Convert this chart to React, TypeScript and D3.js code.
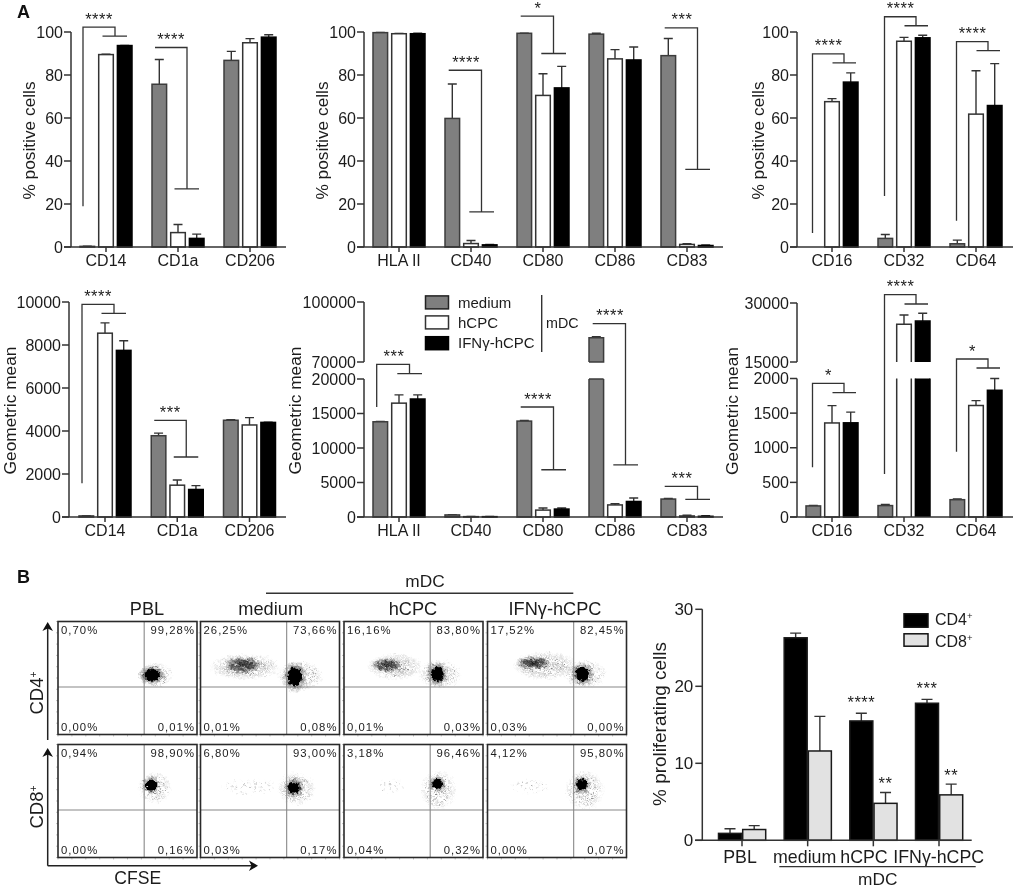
import React from "react";
import * as d3 from "d3";

const FONT = "'Liberation Sans', Arial, sans-serif";
const INK = "#1c1c1c";

// ---------- Panel A: data ----------
const surfaceMyeloid = ["CD14", "CD1a", "CD206"];
const surfaceCostim = ["HLA II", "CD40", "CD80", "CD86", "CD83"];
const surfaceFc = ["CD16", "CD32", "CD64"];
const treatments = ["medium", "hCPC", "IFNγ-hCPC"];

const pctMyeloidMedium = [0.3, 75.7, 86.8];
const pctMyeloidMediumTop = [0.4, 87.2, 91];
const pctMyeloidHcpc = [89.5, 6.7, 95];
const pctMyeloidHcpcTop = [89.7, 10.5, 96.9];
const pctMyeloidIfn = [93.7, 4, 97.6];
const pctMyeloidIfnTop = [93.8, 6, 98.7];

const pctCostimMedium = [99.7, 59.8, 99.4, 99, 89];
const pctCostimMediumTop = [99.8, 75.8, 99.5, 99.4, 97];
const pctCostimHcpc = [99.2, 1.6, 70.5, 87.5, 1.2];
const pctCostimHcpcTop = [99.3, 3, 80.6, 91.8, 1.5];
const pctCostimIfn = [99.2, 1, 74, 87, 0.7];
const pctCostimIfnTop = [99.4, 1.2, 84, 93, 0.9];

const pctFcMedium = [0, 4, 1.5];
const pctFcMediumTop = [0, 5.8, 3.2];
const pctFcHcpc = [67.6, 95.7, 61.8];
const pctFcHcpcTop = [69, 97.5, 82];
const pctFcIfn = [76.7, 97.3, 65.8];
const pctFcIfnTop = [81, 98.5, 85.3];

const mfiMyeloidMedium = [50, 3780, 4500];
const mfiMyeloidMediumTop = [55, 3900, 4520];
const mfiMyeloidHcpc = [8550, 1480, 4280];
const mfiMyeloidHcpcTop = [9030, 1720, 4620];
const mfiMyeloidIfn = [7750, 1280, 4400];
const mfiMyeloidIfnTop = [8200, 1460, 4410];

const mfiCostimMedium = [13800, 300, 13900, 82150, 2600];
const mfiCostimMediumTop = [13850, 330, 14000, 82600, 2680];
const mfiCostimHcpc = [16500, 50, 1000, 1750, 150];
const mfiCostimHcpcTop = [17700, 70, 1300, 1930, 250];
const mfiCostimIfn = [17100, 50, 1150, 2250, 100];
const mfiCostimIfnTop = [17700, 70, 1300, 2750, 200];

const mfiFcMedium = [160, 165, 250];
const mfiFcMediumTop = [165, 180, 260];
const mfiFcHcpc = [1358, 24600, 1610];
const mfiFcHcpcTop = [1608, 26950, 1680];
const mfiFcIfn = [1360, 25400, 1830];
const mfiFcIfnTop = [1515, 27400, 2000];

const ticksPct = [0, 20, 40, 60, 80, 100];
const ticksMfi = [0, 2000, 4000, 6000, 8000, 10000];
const ticksCostimBroken = [0, 5000, 10000, 15000, 20000, 70000, 100000];
const ticksFcBroken = [0, 500, 1000, 1500, 2000, 15000, 30000];

// Significance brackets, in units of each panel's y axis
type Bracket = { group: number; stars: string; top: number; drop?: number; bar: number };
const sigPctMyeloid: Bracket[] = [
  { group: 0, stars: "****", top: 102.3, drop: 19, bar: 98.1 },
  { group: 1, stars: "****", top: 92.8, bar: 27 },
];
const sigPctCostim: Bracket[] = [
  { group: 1, stars: "****", top: 82.2, bar: 16.3 },
  { group: 2, stars: "*", top: 107.4, bar: 90 },
  { group: 4, stars: "***", top: 101.9, bar: 36.1 },
];
const sigPctFc: Bracket[] = [
  { group: 0, stars: "****", top: 89.8, drop: 6.5, bar: 85.6 },
  { group: 1, stars: "****", top: 107.1, drop: 23.7, bar: 102.9 },
  { group: 2, stars: "****", top: 95.5, drop: 12.2, bar: 91.3 },
];
const sigMfiMyeloid: Bracket[] = [
  { group: 0, stars: "****", top: 9893, drop: 1567, bar: 9474 },
  { group: 1, stars: "***", top: 4497, bar: 2790 },
];
const sigMfiCostim: Bracket[] = [
  { group: 0, stars: "***", top: 63235, drop: 15940, bar: 35600 },
  { group: 2, stars: "****", top: 15940, bar: 6850 },
  { group: 3, stars: "****", top: 89150, bar: 7540 },
  { group: 4, stars: "***", top: 4450, bar: 2565 },
];
const sigMfiFc: Bracket[] = [
  { group: 0, stars: "*", top: 1931, drop: 718, bar: 1795 },
  { group: 1, stars: "****", top: 32110, drop: 621, bar: 29750 },
  { group: 2, stars: "*", top: 15760, drop: 943, bar: 10270 },
];

// ---------- Panel B: data ----------
const proliferationGroups = ["PBL", "medium", "hCPC", "IFNγ-hCPC"];
const proliferationCd4 = [0.9, 26.3, 15.5, 17.8];
const proliferationCd4Top = [1.5, 26.9, 16.5, 18.3];
const proliferationCd8 = [1.4, 11.6, 4.8, 5.9];
const proliferationCd8Top = [1.9, 16.1, 6.2, 7.3];
const proliferationStarsCd4 = ["", "", "****", "***"];
const proliferationStarsCd8 = ["", "", "**", "**"];
const ticksProliferation = [0, 10, 20, 30];

const flowRows = ["CD4", "CD8"];
const flowPercentCd4 = [
  ["0,70%", "99,28%", "0,00%", "0,01%"],
  ["26,25%", "73,66%", "0,01%", "0,08%"],
  ["16,16%", "83,80%", "0,01%", "0,03%"],
  ["17,52%", "82,45%", "0,03%", "0,00%"],
];
const flowPercentCd8 = [
  ["0,94%", "98,90%", "0,00%", "0,16%"],
  ["6,80%", "93,00%", "0,03%", "0,17%"],
  ["3,18%", "96,46%", "0,04%", "0,32%"],
  ["4,12%", "95,80%", "0,00%", "0,07%"],
];

// Estimated populations on a 0-1000 channel scale: [kind, x, y, xSpread, ySpread]
type Pop = [string, number, number, number, number];
const flowPopsCd4: Pop[][] = [
  [["halo", 705, 527, 122, 115], ["core", 674, 527, 58, 52]],
  [["sparse", 320, 600, 252, 115], ["dense", 305, 615, 130, 75], ["halo", 715, 518, 170, 133], ["core", 679, 510, 52, 82]],
  [["sparse", 367, 600, 201, 115], ["dense", 307, 615, 110, 62], ["halo", 690, 535, 158, 133], ["core", 671, 535, 46, 62]],
  [["sparse", 413, 610, 230, 124], ["dense", 327, 633, 125, 62], ["halo", 700, 535, 158, 124], ["core", 682, 535, 50, 62]],
];
const flowPopsCd8: Pop[][] = [
  [["halo", 697, 615, 122, 142], ["core", 669, 642, 38, 48]],
  [["faint", 356, 625, 216, 71], ["halo", 690, 610, 137, 150], ["core", 672, 618, 42, 52]],
  [["faint", 331, 632, 100, 71], ["halo", 680, 595, 130, 177], ["core", 671, 650, 36, 44]],
  [["faint", 306, 632, 144, 71], ["halo", 700, 595, 144, 177], ["core", 677, 647, 38, 48]],
];
// one tile of hand-placed event dots used for the stippled populations
const tileDots = [
  [1, 2], [5, 1], [9, 3], [13, 1], [16, 4], [20, 2], [24, 1], [27, 3], [31, 2], [33, 5],
  [3, 5], [7, 6], [11, 5], [14, 7], [18, 6], [22, 5], [25, 7], [29, 6], [1, 8], [5, 10],
  [9, 9], [12, 11], [16, 9], [20, 10], [23, 12], [27, 10], [31, 9], [33, 12], [3, 13], [7, 14],
  [10, 15], [15, 13], [18, 15], [21, 16], [26, 15], [30, 14], [2, 17], [6, 18], [12, 18], [16, 19],
  [23, 19], [28, 18], [32, 17], [4, 21], [9, 22], [14, 23], [19, 21], [25, 22], [30, 23], [1, 24],
];

// ---------- Drawing ----------
const seriesStyle = [
  { fill: "#7f7f7f", stroke: "#3c3c3c" },
  { fill: "#ffffff", stroke: "#333333" },
  { fill: "#000000", stroke: "#000000" },
];
const subOffset = d3.scalePoint<string>().domain(treatments).range([-18.7, 18.7]);

type Offsets = { l: number; r: number; c1: number; c2: number; s: number };
type PanelProps = {
  cats: string[];
  vals: number[][];
  tops: number[][];
  ticks: number[];
  domain: number[];
  range: number[];
  axisX: number;
  axisEnd: number;
  tickFirst: number;
  tickLast: number;
  title: string;
  titleX: number;
  sig: Bracket[];
  off: Offsets;
  gap?: [number, number];
};

function Panel({ cats, vals, tops, ticks, domain, range, axisX, axisEnd, tickFirst, tickLast, title, titleX, sig, off, gap }: PanelProps) {
  const y = d3.scaleLinear().domain(domain).range(range);
  const x = d3.scalePoint<string>().domain(cats).range([tickFirst, tickLast]);
  const y0 = y(0);
  const yTop = y(ticks[ticks.length - 1]);
  const w = 14.6;
  const axisPath = gap
    ? `M${axisX},${yTop}V${y(gap[1])}M${axisX},${y(gap[0])}V${y0}`
    : `M${axisX},${yTop}V${y0}`;
  return (
    <g fontFamily={FONT} fill={INK}>
      {treatments.map((t, si) =>
        cats.map((c, ci) => {
          const v = vals[si][ci];
          const top = tops[si][ci];
          const cx = x(c)! + subOffset(t)!;
          const st = seriesStyle[si];
          const broken = gap && v > gap[1];
          return (
            <g key={t + c}>
              {top > v && v > 0 && (
                <path d={`M${cx},${y(v)}V${y(top)}M${cx - 4.5},${y(top)}H${cx + 4.5}`} fill="none" stroke="#333" strokeWidth={1.4} />
              )}
              {v > 0 && !broken && (
                <rect x={cx - w / 2} y={y(v)} width={w} height={y0 - y(v)} fill={st.fill} stroke={st.stroke} strokeWidth={1.5} />
              )}
              {broken && (
                <>
                  <rect x={cx - w / 2} y={y(gap![0])} width={w} height={y0 - y(gap![0])} fill={st.fill} />
                  <rect x={cx - w / 2} y={y(v)} width={w} height={y(gap![1]) - y(v)} fill={st.fill} />
                  <path
                    d={
                      `M${cx - w / 2},${y0}V${y(gap![0])}M${cx + w / 2},${y0}V${y(gap![0])}` +
                      `M${cx - w / 2},${y(gap![1])}V${y(v)}H${cx + w / 2}V${y(gap![1])}` +
                      (si === 0 ? `H${cx - w / 2}M${cx - w / 2},${y(gap![0])}H${cx + w / 2}` : "")
                    }
                    fill="none"
                    stroke={st.stroke}
                    strokeWidth={1.5}
                  />
                </>
              )}
            </g>
          );
        })
      )}
      <path d={axisPath} fill="none" stroke="#333" strokeWidth={1.5} />
      <path d={`M${axisX - 7},${y0}H${axisEnd}`} fill="none" stroke="#333" strokeWidth={1.5} />
      {ticks.map((t) => (
        <g key={t}>
          <line x1={axisX - 7} x2={axisX} y1={y(t)} y2={y(t)} stroke="#333" strokeWidth={1.5} />
          <text x={axisX - 8} y={y(t) + 5.7} textAnchor="end" fontSize={16}>{t}</text>
        </g>
      ))}
      {cats.map((c) => (
        <g key={c}>
          <line x1={x(c)} x2={x(c)} y1={y0} y2={y0 + 5} stroke="#333" strokeWidth={1.5} />
          <text x={x(c)} y={y0 + 19} textAnchor="middle" fontSize={16}>{c}</text>
        </g>
      ))}
      <text transform={`translate(${titleX},${(y0 + yTop) / 2 + 1}) rotate(-90)`} textAnchor="middle" fontSize={17.3}>{title}</text>
      {sig.map((b) => {
        const gx = x(cats[b.group])!;
        const yt = y(b.top);
        const left = b.drop !== undefined ? `M${gx + off.l},${y(b.drop)}V${yt}` : `M${gx + off.l},${yt}`;
        return (
          <g key={b.group}>
            <path
              d={`${left}H${gx + off.r}V${y(b.bar)}M${gx + off.c1},${y(b.bar)}H${gx + off.c2}`}
              fill="none"
              stroke="#333"
              strokeWidth={1.3}
            />
            <text x={gx + off.s} y={yt - 2.5} textAnchor="middle" fontSize={16.5} letterSpacing={0.5}>{b.stars}</text>
          </g>
        );
      })}
    </g>
  );
}

const offLeft: Offsets = { l: -23, r: 9, c1: -3.5, c2: 21, s: -7 };
const offMid: Offsets = { l: -22.3, r: 10.5, c1: -1.7, c2: 23, s: -5 };
const offRight: Offsets = { l: -19.5, r: 12, c1: 0.5, c2: 24, s: -3.5 };

function Legend() {
  const ys = [302.5, 322.5, 343.3];
  return (
    <g fontFamily={FONT} fill={INK}>
      {treatments.map((t, i) => (
        <g key={t}>
          <rect x={425.5} y={ys[i] - 6.6} width={23} height={13} fill={seriesStyle[i].fill} stroke={i === 0 ? "#222" : seriesStyle[i].stroke} strokeWidth={1.5} />
          <text x={458} y={ys[i] + 5} fontSize={15}>{t}</text>
        </g>
      ))}
      <line x1={541.7} x2={541.7} y1={295} y2={352} stroke="#333" strokeWidth={1.4} />
      <text x={546} y={328} fontSize={14.3}>mDC</text>
    </g>
  );
}

const boxLefts = [58, 200.5, 344, 487.5];
const boxWidth = 139;
const boxHeight = 113;
const rowBottoms = [734.5, 857.5];

function FlowPlot({ col, row }: { col: number; row: number }) {
  const left = boxLefts[col];
  const bottom = rowBottoms[row];
  const x = d3.scaleLinear().domain([0, 1000]).range([left, left + boxWidth]);
  const y = d3.scaleLinear().domain([0, 1000]).range([bottom, bottom - boxHeight]);
  const pops = (row === 0 ? flowPopsCd4 : flowPopsCd8)[col];
  const labels = (row === 0 ? flowPercentCd4 : flowPercentCd8)[col];
  const mx = x(620);
  const my = y(420);
  return (
    <g fontFamily={FONT}>
      {d3.range(0, 1001, 100).map((t) => (
        <g key={t} stroke="#aaa" strokeWidth={0.7}>
          <line x1={x(t)} x2={x(t)} y1={bottom} y2={bottom + 2} />
          <line x1={left} x2={left - 2} y1={y(t)} y2={y(t)} />
        </g>
      ))}
      <g filter="url(#jitter)">
        {pops.map(([kind, px, py, sx, sy], i) => {
          const e = { cx: x(px), cy: y(py), rx: x(sx) - x(0), ry: y(0) - y(sy) };
          return kind === "core" ? (
            <g key={i}>
              <ellipse {...e} rx={e.rx * 1.75} ry={e.ry * 1.75} fill="url(#st-inner)" mask="url(#fade)" />
              <ellipse {...e} fill="#000" />
            </g>
          ) : (
            <ellipse key={i} {...e} fill={`url(#st-${kind})`} mask="url(#fade)" />
          );
        })}
      </g>
      <line x1={mx} x2={mx} y1={bottom - boxHeight} y2={bottom} stroke="#888" strokeWidth={1.1} />
      <line x1={left} x2={left + boxWidth} y1={my} y2={my} stroke="#888" strokeWidth={1.1} />
      <rect x={left} y={bottom - boxHeight} width={boxWidth} height={boxHeight} fill="none" stroke="#2a2a2a" strokeWidth={1.6} />
      <g fontSize={11.3} letterSpacing={1.05} fill={INK}>
        <text x={left + 3} y={bottom - boxHeight + 12.5}>{labels[0]}</text>
        <text x={left + boxWidth - 2} y={bottom - boxHeight + 12.5} textAnchor="end">{labels[1]}</text>
        <text x={left + 3} y={bottom - 4}>{labels[2]}</text>
        <text x={left + boxWidth - 2} y={bottom - 4} textAnchor="end">{labels[3]}</text>
      </g>
    </g>
  );
}

function Tile({ id, w, h, r, fill, angle }: { id: string; w: number; h: number; r: number; fill: string; angle: number }) {
  return (
    <pattern id={id} width={w} height={h} patternUnits="userSpaceOnUse" patternTransform={`rotate(${angle})`}>
      {tileDots.map(([a, b], i) => (
        <circle key={i} cx={(a * w) / 34} cy={(b * h) / 26} r={r} fill={fill} />
      ))}
    </pattern>
  );
}

function FlowBlock() {
  const titleXs = [147, 270.7, 413, 555];
  const titles = ["PBL", "medium", "hCPC", "IFNγ-hCPC"];
  return (
    <g fontFamily={FONT} fill={INK}>
      <defs>
        <radialGradient id="fadeGrad">
          <stop offset="0" stopColor="#fff" />
          <stop offset="0.6" stopColor="#bbb" />
          <stop offset="1" stopColor="#000" />
        </radialGradient>
        <mask id="fade" maskContentUnits="objectBoundingBox">
          <rect x="0" y="0" width="1" height="1" fill="url(#fadeGrad)" />
        </mask>
        <filter id="jitter" x="40" y="610" width="600" height="260" filterUnits="userSpaceOnUse">
          <feTurbulence type="fractalNoise" baseFrequency="0.33" numOctaves={2} seed={4} result="n" />
          <feDisplacementMap in="SourceGraphic" in2="n" scale={6} xChannelSelector="R" yChannelSelector="G" />
        </filter>
        <Tile id="st-inner" w={11} h={9} r={0.62} fill="#000" angle={17} />
        <Tile id="st-dense" w={10} h={8} r={0.72} fill="#000" angle={23} />
        <Tile id="st-halo" w={21} h={17} r={0.5} fill="#111" angle={31} />
        <Tile id="st-sparse" w={17} h={13} r={0.5} fill="#222" angle={13} />
        <Tile id="st-faint" w={38} h={29} r={0.5} fill="#444" angle={41} />
      </defs>
      <text x={17} y={583} fontSize={18} fontWeight="bold" fill="#111">B</text>
      <line x1={266} x2={573.3} y1={593.3} y2={593.3} stroke="#333" strokeWidth={1.4} />
      <text x={425} y={586.5} textAnchor="middle" fontSize={17.3}>mDC</text>
      {titles.map((t, i) => (
        <text key={t} x={titleXs[i]} y={615} textAnchor="middle" fontSize={18.2}>{t}</text>
      ))}
      {flowRows.map((_, r) => boxLefts.map((_, c) => <FlowPlot key={`${r}-${c}`} col={c} row={r} />))}
      <path d="M47.7,740V628" stroke="#222" strokeWidth={1.5} fill="none" />
      <path d="M47.7,622L53,631L47.7,628.5L42.4,631Z" fill="#111" />
      <path d="M47.7,865.7V754M47.7,865.7H252" stroke="#222" strokeWidth={1.5} fill="none" />
      <path d="M47.7,748L53,757L47.7,754.5L42.4,757Z" fill="#111" />
      <path d="M258,865.7L249,860.4L251.5,865.7L249,871Z" fill="#111" />
      <text transform="translate(43,693) rotate(-90)" textAnchor="middle" fontSize={18.5}>
        CD4<tspan fontSize={10.5} dy={-6}>+</tspan>
      </text>
      <text transform="translate(43,807) rotate(-90)" textAnchor="middle" fontSize={18.5}>
        CD8<tspan fontSize={10.5} dy={-6}>+</tspan>
      </text>
      <text x={137.7} y={884} textAnchor="middle" fontSize={17.6}>CFSE</text>
    </g>
  );
}

function Proliferation() {
  const y = d3.scaleLinear().domain([0, 30]).range([840.3, 609.3]);
  const x = d3.scalePoint<string>().domain(proliferationGroups).range([742, 939]);
  const axisX = 702.3;
  const w = 23;
  const centers = [
    proliferationGroups.map((g) => x(g)! - 12),
    proliferationGroups.map((g) => x(g)! + 12.2),
  ];
  const labelXs = [740, 804.7, 864, 938.7];
  const series = [
    { v: proliferationCd4, t: proliferationCd4Top, s: proliferationStarsCd4, fill: "#000" },
    { v: proliferationCd8, t: proliferationCd8Top, s: proliferationStarsCd8, fill: "#e2e2e2" },
  ];
  return (
    <g fontFamily={FONT} fill={INK}>
      {series.map((se, si) =>
        proliferationGroups.map((g, i) => {
          const cx = centers[si][i];
          return (
            <g key={`${si}-${g}`}>
              <path d={`M${cx},${y(se.v[i])}V${y(se.t[i])}M${cx - 5.5},${y(se.t[i])}H${cx + 5.5}`} stroke="#333" strokeWidth={1.4} fill="none" />
              <rect x={cx - w / 2} y={y(se.v[i])} width={w} height={y(0) - y(se.v[i])} fill={se.fill} stroke="#1a1a1a" strokeWidth={1.5} />
              {se.s[i] && (
                <text x={cx} y={y(se.t[i]) - (si === 0 ? 5 : 3.5)} textAnchor="middle" fontSize={16.5} letterSpacing={0.5}>{se.s[i]}</text>
              )}
            </g>
          );
        })
      )}
      <path d={`M${axisX},${y(30)}V${y(0)}M695,${y(0)}H971.7`} stroke="#333" strokeWidth={1.5} fill="none" />
      {ticksProliferation.map((t) => (
        <g key={t}>
          <line x1={axisX - 7} x2={axisX} y1={y(t)} y2={y(t)} stroke="#333" strokeWidth={1.5} />
          <text x={axisX - 9} y={y(t) + 6} textAnchor="end" fontSize={17}>{t}</text>
        </g>
      ))}
      {proliferationGroups.map((g, i) => (
        <g key={g}>
          <line x1={x(g)} x2={x(g)} y1={y(0)} y2={y(0) + 6} stroke="#333" strokeWidth={1.5} />
          <text x={labelXs[i]} y={863} textAnchor="middle" fontSize={17.8}>{g}</text>
        </g>
      ))}
      <line x1={779.3} x2={975.7} y1={866.7} y2={866.7} stroke="#333" strokeWidth={1.3} />
      <text x={877.7} y={885} textAnchor="middle" fontSize={17.3}>mDC</text>
      <text transform="translate(666,724) rotate(-90)" textAnchor="middle" fontSize={18.9}>% proliferating cells</text>
      <rect x={904} y={613.8} width={24} height={13.4} fill="#000" stroke="#111" strokeWidth={1.5} />
      <rect x={904} y={633.8} width={24} height={12.4} fill="#e2e2e2" stroke="#111" strokeWidth={1.5} />
      <text x={935} y={625.3} fontSize={16}>CD4<tspan fontSize={9.5} dy={-6}>+</tspan></text>
      <text x={935} y={646.5} fontSize={16}>CD8<tspan fontSize={9.5} dy={-6}>+</tspan></text>
    </g>
  );
}

export default function App() {
  const pctDomain = [0, 100];
  const pctRange = [247, 32];
  return (
    <svg width={1015} height={888} style={{ position: "absolute", left: 0, top: 0, display: "block", background: "#fff" }}>
      <defs>
        <filter id="soft" x="0" y="0" width="1015" height="888" filterUnits="userSpaceOnUse" colorInterpolationFilters="sRGB">
          <feGaussianBlur stdDeviation={0.4} />
        </filter>
      </defs>
      <g filter="url(#soft)">
        <rect width={1015} height={888} fill="#fff" />
        <text x={17} y={18} fontFamily={FONT} fontSize={18} fontWeight="bold" fill="#111">A</text>
        <Panel cats={surfaceMyeloid} vals={[pctMyeloidMedium, pctMyeloidHcpc, pctMyeloidIfn]} tops={[pctMyeloidMediumTop, pctMyeloidHcpcTop, pctMyeloidIfnTop]}
          ticks={ticksPct} domain={pctDomain} range={pctRange} axisX={71} axisEnd={286} tickFirst={106} tickLast={250}
          title="% positive cells" titleX={35} sig={sigPctMyeloid} off={offLeft} />
        <Panel cats={surfaceCostim} vals={[pctCostimMedium, pctCostimHcpc, pctCostimIfn]} tops={[pctCostimMediumTop, pctCostimHcpcTop, pctCostimIfnTop]}
          ticks={ticksPct} domain={pctDomain} range={pctRange} axisX={364} axisEnd={723} tickFirst={399} tickLast={687}
          title="% positive cells" titleX={328} sig={sigPctCostim} off={offMid} />
        <Panel cats={surfaceFc} vals={[pctFcMedium, pctFcHcpc, pctFcIfn]} tops={[pctFcMediumTop, pctFcHcpcTop, pctFcIfnTop]}
          ticks={ticksPct} domain={pctDomain} range={pctRange} axisX={797} axisEnd={1013} tickFirst={832} tickLast={976}
          title="% positive cells" titleX={764} sig={sigPctFc} off={offRight} />
        <Panel cats={surfaceMyeloid} vals={[mfiMyeloidMedium, mfiMyeloidHcpc, mfiMyeloidIfn]} tops={[mfiMyeloidMediumTop, mfiMyeloidHcpcTop, mfiMyeloidIfnTop]}
          ticks={ticksMfi} domain={[0, 10000]} range={[517, 302]} axisX={69} axisEnd={286} tickFirst={105} tickLast={249.5}
          title="Geometric mean" titleX={15.5} sig={sigMfiMyeloid} off={offLeft} />
        <Panel cats={surfaceCostim} vals={[mfiCostimMedium, mfiCostimHcpc, mfiCostimIfn]} tops={[mfiCostimMediumTop, mfiCostimHcpcTop, mfiCostimIfnTop]}
          ticks={ticksCostimBroken} domain={[0, 20000, 70000, 100000]} range={[517, 379, 362, 302]} axisX={364} axisEnd={723} tickFirst={399} tickLast={687}
          title="Geometric mean" titleX={301} sig={sigMfiCostim} off={offMid} gap={[20000, 70000]} />
        <Panel cats={surfaceFc} vals={[mfiFcMedium, mfiFcHcpc, mfiFcIfn]} tops={[mfiFcMediumTop, mfiFcHcpcTop, mfiFcIfnTop]}
          ticks={ticksFcBroken} domain={[0, 2000, 15000, 30000]} range={[517, 378.5, 362, 303]} axisX={797} axisEnd={1013} tickFirst={832} tickLast={976}
          title="Geometric mean" titleX={738} sig={sigMfiFc} off={offRight} gap={[2000, 15000]} />
        <Legend />
        <FlowBlock />
        <Proliferation />
      </g>
    </svg>
  );
}
